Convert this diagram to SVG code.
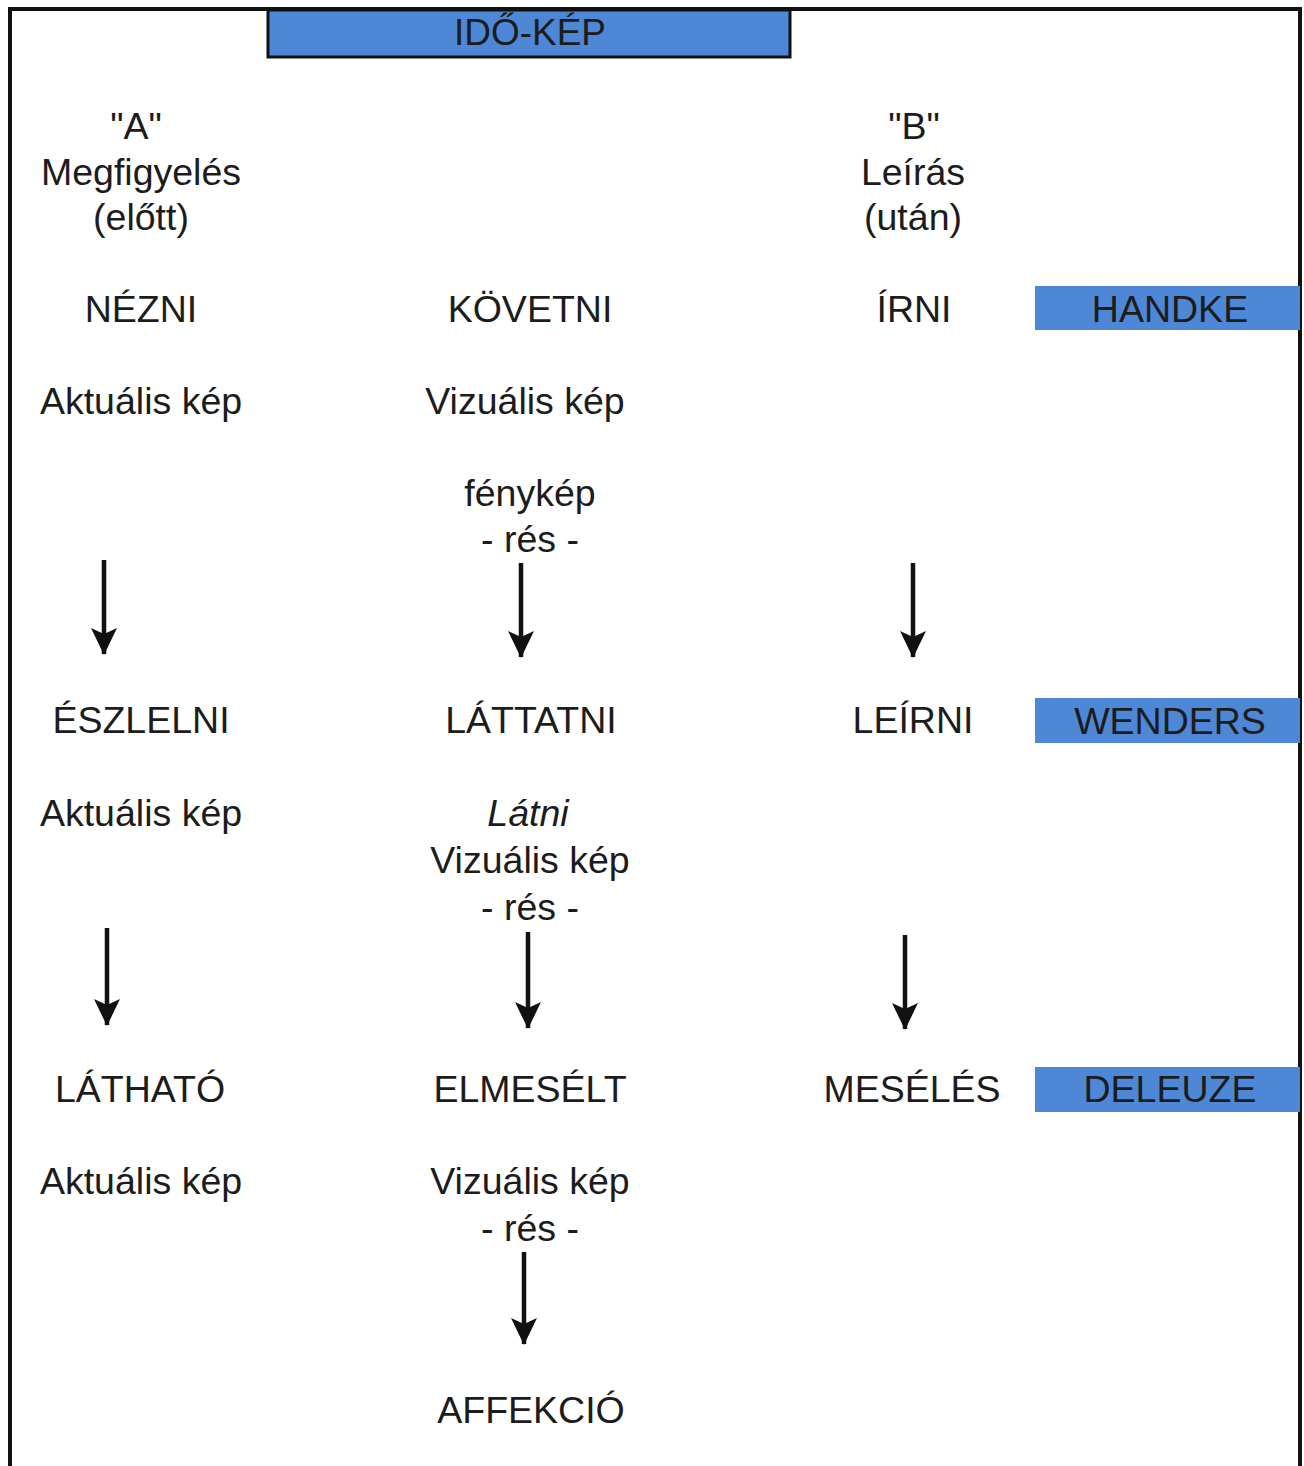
<svg xmlns="http://www.w3.org/2000/svg" width="1304" height="1466" viewBox="0 0 1304 1466">
<style>
text{font-family:"Liberation Sans",Arial,sans-serif;font-size:37.5px;fill:#1c1c1c;text-anchor:middle}
.it{font-style:italic}
.blue{fill:#4d87d6}
.conn line{stroke:#111;stroke-width:4.5}
</style>
<defs>
<marker id="ah" markerUnits="userSpaceOnUse" markerWidth="28" markerHeight="28" viewBox="0 0 28 28" refX="26" refY="14" orient="auto">
<path d="M0,1 L27,14 L0,27 L6,14 Z" fill="#111"/>
</marker>
</defs>
<rect width="1304" height="1466" fill="#fff"/>
<path d="M10,1470 V9 H1300 V1470" fill="none" stroke="#111" stroke-width="4"/>
<g id="idokep">
<rect x="268" y="10" width="522" height="47" class="blue" stroke="#111" stroke-width="3"/>
<text x="530" y="45" font-size="40" textLength="152" lengthAdjust="spacingAndGlyphs">IDŐ-KÉP</text>
</g>
<g id="colA-head"><text x="136" y="139">"A"</text><text x="141" y="185">Megfigyelés</text><text x="141" y="230">(előtt)</text></g>
<g id="colB-head"><text x="914" y="139">"B"</text><text x="913" y="185">Leírás</text><text x="913" y="230">(után)</text></g>
<g id="nezni"><text x="141" y="322">NÉZNI</text></g>
<g id="kovetni"><text x="530" y="322">KÖVETNI</text></g>
<g id="irni"><text x="914" y="322">ÍRNI</text></g>
<g id="handke"><rect x="1035" y="286" width="265" height="44" class="blue"/><text x="1170" y="322">HANDKE</text></g>
<g id="aktualis1"><text x="141" y="414">Aktuális kép</text></g>
<g id="vizualis1"><text x="525" y="414">Vizuális kép</text></g>
<g id="fenykep"><text x="530" y="506">fénykép</text><text x="530" y="552">- rés -</text></g>
<g id="eszlelni"><text x="141" y="733">ÉSZLELNI</text></g>
<g id="lattatni"><text x="531" y="733">LÁTTATNI</text></g>
<g id="leirni"><text x="913" y="733">LEÍRNI</text></g>
<g id="wenders"><rect x="1035" y="698" width="265" height="45" class="blue"/><text x="1170" y="734">WENDERS</text></g>
<g id="aktualis2"><text x="141" y="826">Aktuális kép</text></g>
<g id="latni"><text x="528" y="826" class="it">Látni</text><text x="530" y="873">Vizuális kép</text><text x="530" y="920">- rés -</text></g>
<g id="lathato"><text x="140" y="1102">LÁTHATÓ</text></g>
<g id="elmeselt"><text x="530" y="1102">ELMESÉLT</text></g>
<g id="meseles"><text x="912" y="1102">MESÉLÉS</text></g>
<g id="deleuze"><rect x="1035" y="1067" width="265" height="45" class="blue"/><text x="1170" y="1102">DELEUZE</text></g>
<g id="aktualis3"><text x="141" y="1194">Aktuális kép</text></g>
<g id="vizualis3"><text x="530" y="1194">Vizuális kép</text><text x="530" y="1241">- rés -</text></g>
<g id="affekcio"><text x="531" y="1423">AFFEKCIÓ</text></g>
<g class="conn" id="connectors">
<line x1="104" y1="560" x2="104" y2="654" marker-end="url(#ah)"/>
<line x1="521" y1="563" x2="521" y2="657" marker-end="url(#ah)"/>
<line x1="913" y1="563" x2="913" y2="657" marker-end="url(#ah)"/>
<line x1="107" y1="928" x2="107" y2="1025" marker-end="url(#ah)"/>
<line x1="528" y1="932" x2="528" y2="1028" marker-end="url(#ah)"/>
<line x1="905" y1="935" x2="905" y2="1029" marker-end="url(#ah)"/>
<line x1="524" y1="1252" x2="524" y2="1344" marker-end="url(#ah)"/>
</g>
</svg>
